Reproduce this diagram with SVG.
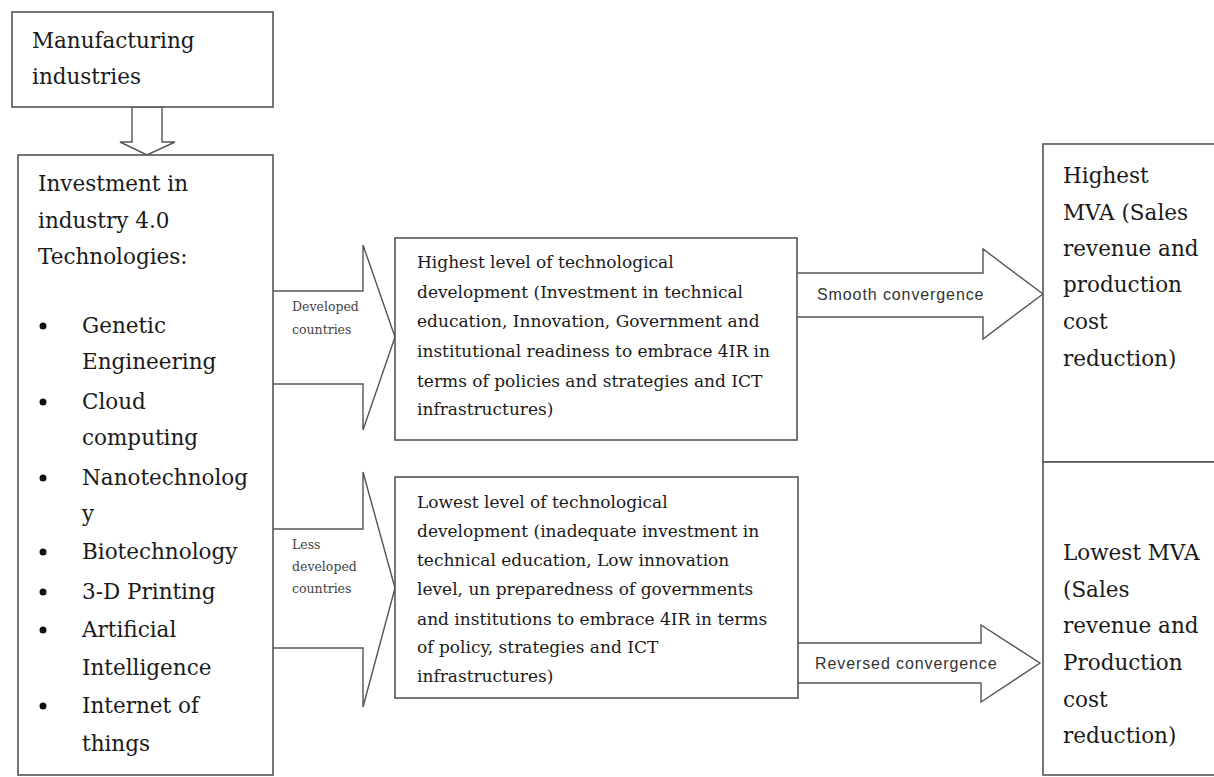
<svg xmlns="http://www.w3.org/2000/svg" width="1214" height="777" viewBox="0 0 1214 777">
<style>
.box{fill:#fff;stroke:#555;stroke-width:1.6}
.arr{fill:#fff;stroke:#555;stroke-width:1.4;stroke-linejoin:miter}
.big{font-family:"DejaVu Serif","Liberation Serif",serif;font-size:21.5px;fill:#1a1a1a}
.mid{font-family:"DejaVu Serif","Liberation Serif",serif;font-size:17px;fill:#1a1a1a}
.sm{font-family:"DejaVu Serif","Liberation Serif",serif;font-size:12.5px;fill:#444}
.sans{font-family:"Liberation Sans","DejaVu Sans",sans-serif;font-size:16px;fill:#333;letter-spacing:0.9px}
.dot{fill:#111}
</style>
<rect width="1214" height="777" fill="#fff"/>

<g id="connectors">
<polygon class="arr" points="132,107 132,142 120,142 147,155 175,142 162,142 162,107"/>
<polyline class="arr" points="273,291 363,291 363,245 395,337 363,430 363,384 273,384"/>
<polyline class="arr" points="273,529 363,529 363,472 395,588 363,707 363,648 273,648"/>
<polyline class="arr" points="797,273 983,273 983,249 1043,294 983,339 983,317 797,317"/>
<polyline class="arr" points="798,643 981,643 981,625 1040,663 981,702 981,683 798,683"/>
<text class="sm" x="292" y="311">Developed</text>
<text class="sm" x="292" y="334">countries</text>
<text class="sm" x="292" y="549">Less</text>
<text class="sm" x="292" y="571">developed</text>
<text class="sm" x="292" y="593">countries</text>
<text class="sans" x="817" y="300">Smooth convergence</text>
<text class="sans" x="815" y="669">Reversed convergence</text>
</g>

<g id="manufacturing">
<rect class="box" x="12" y="12" width="261" height="95"/>
<text class="big" x="32" y="48">Manufacturing</text>
<text class="big" x="32" y="84">industries</text>
</g>

<g id="investment">
<rect class="box" x="18" y="155" width="255" height="620"/>
<text class="big" x="38" y="191">Investment in</text>
<text class="big" x="38" y="228">industry 4.0</text>
<text class="big" x="38" y="264">Technologies:</text>
<circle class="dot" cx="43" cy="326" r="3.5"/>
<text class="big" x="82" y="333">Genetic</text>
<text class="big" x="82" y="369">Engineering</text>
<circle class="dot" cx="43" cy="402" r="3.5"/>
<text class="big" x="82" y="409">Cloud</text>
<text class="big" x="82" y="445">computing</text>
<circle class="dot" cx="43" cy="478" r="3.5"/>
<text class="big" x="82" y="485">Nanotechnolog</text>
<text class="big" x="82" y="521">y</text>
<circle class="dot" cx="43" cy="552" r="3.5"/>
<text class="big" x="82" y="559">Biotechnology</text>
<circle class="dot" cx="43" cy="592" r="3.5"/>
<text class="big" x="82" y="599">3-D Printing</text>
<circle class="dot" cx="43" cy="630" r="3.5"/>
<text class="big" x="82" y="637">Artificial</text>
<text class="big" x="82" y="675">Intelligence</text>
<circle class="dot" cx="43" cy="706" r="3.5"/>
<text class="big" x="82" y="713">Internet of</text>
<text class="big" x="82" y="751">things</text>
</g>

<g id="highest-level">
<rect class="box" x="395" y="238" width="402" height="202"/>
<text class="mid" x="417" y="268">Highest level of technological</text>
<text class="mid" x="417" y="298">development (Investment in technical</text>
<text class="mid" x="417" y="327">education, Innovation, Government and</text>
<text class="mid" x="417" y="357">institutional readiness to embrace 4IR in</text>
<text class="mid" x="417" y="387">terms of policies and strategies and ICT</text>
<text class="mid" x="417" y="415">infrastructures)</text>
</g>

<g id="lowest-level">
<rect class="box" x="395" y="477" width="403" height="221"/>
<text class="mid" x="417" y="508">Lowest level of technological</text>
<text class="mid" x="417" y="537">development (inadequate investment in</text>
<text class="mid" x="417" y="566">technical education, Low innovation</text>
<text class="mid" x="417" y="595">level, un preparedness of governments</text>
<text class="mid" x="417" y="625">and institutions to embrace 4IR in terms</text>
<text class="mid" x="417" y="653">of policy, strategies and ICT</text>
<text class="mid" x="417" y="682">infrastructures)</text>
</g>

<g id="highest-mva">
<rect class="box" x="1043" y="144" width="200" height="318"/>
<text class="big" x="1063" y="183">Highest</text>
<text class="big" x="1063" y="220">MVA (Sales</text>
<text class="big" x="1063" y="256">revenue and</text>
<text class="big" x="1063" y="292">production</text>
<text class="big" x="1063" y="329">cost</text>
<text class="big" x="1063" y="366">reduction)</text>
</g>

<g id="lowest-mva">
<rect class="box" x="1043" y="462" width="200" height="313"/>
<text class="big" x="1063" y="560">Lowest MVA</text>
<text class="big" x="1063" y="597">(Sales</text>
<text class="big" x="1063" y="633">revenue and</text>
<text class="big" x="1063" y="670">Production</text>
<text class="big" x="1063" y="707">cost</text>
<text class="big" x="1063" y="743">reduction)</text>
</g>
</svg>
